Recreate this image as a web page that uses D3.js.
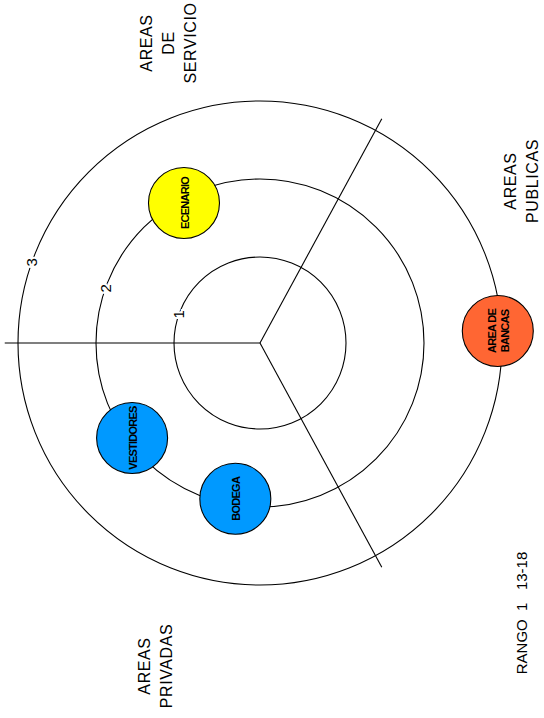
<!DOCTYPE html>
<html>
<head>
<meta charset="utf-8">
<script src="https://cdn.jsdelivr.net/npm/d3@7"></script>
<style>
  body { margin: 0; background: #fff; }
  svg { display: block; font-family: "Liberation Sans", Arial, sans-serif; }
</style>
</head>
<body>
<svg id="chart"></svg>
<script>
// rings of the zoning diagram
var rings = [1, 2, 3];
var ringLabels = ["1", "2", "3"];

// spaces (bubbles): ring position and bearing in degrees, clockwise from top
var spaceNames = [["ECENARIO"], ["AREA DE", "BANCAS"], ["VESTIDORES"], ["BODEGA"]];
var spaceRing = [1.94, 2.95, 1.94, 1.92];
var spaceBearing = [331.5, 87.1, 233.4, 189];
var spaceColors = ["#FFFF00", "#FF6633", "#0099FF", "#0099FF"];

// dividing lines between zones
var dividerBearing = [270, 28.5, 151.5];
var dividerReach = 3.17;

// zone labels
var zoneNames = [["AREAS", "DE", "SERVICIO"], ["AREAS", "PUBLICAS"], ["AREAS", "PRIVADAS"]];
var caption = "RANGO  1   13-18";

var width = 544, height = 718;
var cx = 260, cy = 343;

var svg = d3.select("#chart")
    .attr("width", width)
    .attr("height", height);

var r = d3.scaleLinear()
    .domain([1, 3])
    .range([86, 242]);

var deg = d3.scaleLinear()
    .domain([0, 360])
    .range([0, 2 * Math.PI]);

var chart = svg.append("g")
    .attr("transform", "translate(" + cx + "," + cy + ")");

// ring circles
chart.selectAll("circle.ring")
    .data(rings)
    .enter().append("circle")
    .attr("class", "ring")
    .attr("r", function(d) { return r(d); })
    .attr("fill", "none")
    .attr("stroke", "#000")
    .attr("stroke-width", 1.1);

// divider lines
chart.selectAll("line.divider")
    .data(dividerBearing)
    .enter().append("line")
    .attr("class", "divider")
    .attr("x1", 0).attr("y1", 0)
    .attr("x2", function(d) { return d3.pointRadial(deg(d), r(dividerReach))[0]; })
    .attr("y2", function(d) { return d3.pointRadial(deg(d), r(dividerReach))[1]; })
    .attr("stroke", "#000")
    .attr("stroke-width", 1.1);

// ring numbers, sitting on the ring line
chart.selectAll("text.ringlabel")
    .data(rings)
    .enter().append("text")
    .attr("class", "ringlabel")
    .attr("transform", function(d) {
        var p = d3.pointRadial(deg(289.5), r(d));
        return "translate(" + p[0] + "," + p[1] + ") rotate(-90)";
    })
    .attr("text-anchor", "middle")
    .attr("dominant-baseline", "central")
    .attr("font-size", 15)
    .attr("fill", "#000")
    .attr("stroke", "#fff")
    .attr("stroke-width", 4)
    .attr("paint-order", "stroke")
    .text(function(d, i) { return ringLabels[i]; });

// space bubbles
var spaces = chart.selectAll("g.space")
    .data(spaceNames)
    .enter().append("g")
    .attr("class", "space")
    .attr("transform", function(d, i) {
        var p = d3.pointRadial(deg(spaceBearing[i]), r(spaceRing[i]));
        return "translate(" + p[0] + "," + p[1] + ")";
    });

spaces.append("circle")
    .attr("r", 35.5)
    .attr("fill", function(d, i) { return spaceColors[i]; })
    .attr("stroke", "#000")
    .attr("stroke-width", 1.1);

spaces.append("text")
    .attr("transform", "rotate(-90)")
    .attr("text-anchor", "middle")
    .attr("font-size", 11)
    .attr("font-weight", "bold")
    .attr("letter-spacing", -0.75)
    .selectAll("tspan")
    .data(function(d) { return d; })
    .enter().append("tspan")
    .attr("x", 0)
    .attr("y", function(d, i, nodes) { return (i - (nodes.length - 1) / 2) * 13 + 5; })
    .text(function(d) { return d; });

// zone labels, rotated
var zonePos = [[152, 43], [516, 181], [150, 666]];
var zones = svg.selectAll("text.zone")
    .data(zoneNames)
    .enter().append("text")
    .attr("class", "zone")
    .attr("transform", function(d, i) {
        return "translate(" + zonePos[i][0] + "," + zonePos[i][1] + ") rotate(-90)";
    })
    .attr("text-anchor", "middle")
    .attr("font-size", 16)
    .attr("letter-spacing", 0.6)
    .attr("fill", "#000");

zones.selectAll("tspan")
    .data(function(d) { return d; })
    .enter().append("tspan")
    .attr("x", 0)
    .attr("y", function(d, i) { return i * 22; })
    .text(function(d) { return d; });

svg.append("text")
    .attr("transform", "translate(527,613) rotate(-90)")
    .attr("text-anchor", "middle")
    .attr("font-size", 15)
    .style("white-space", "pre")
    .text(caption);
</script>
</body>
</html>
